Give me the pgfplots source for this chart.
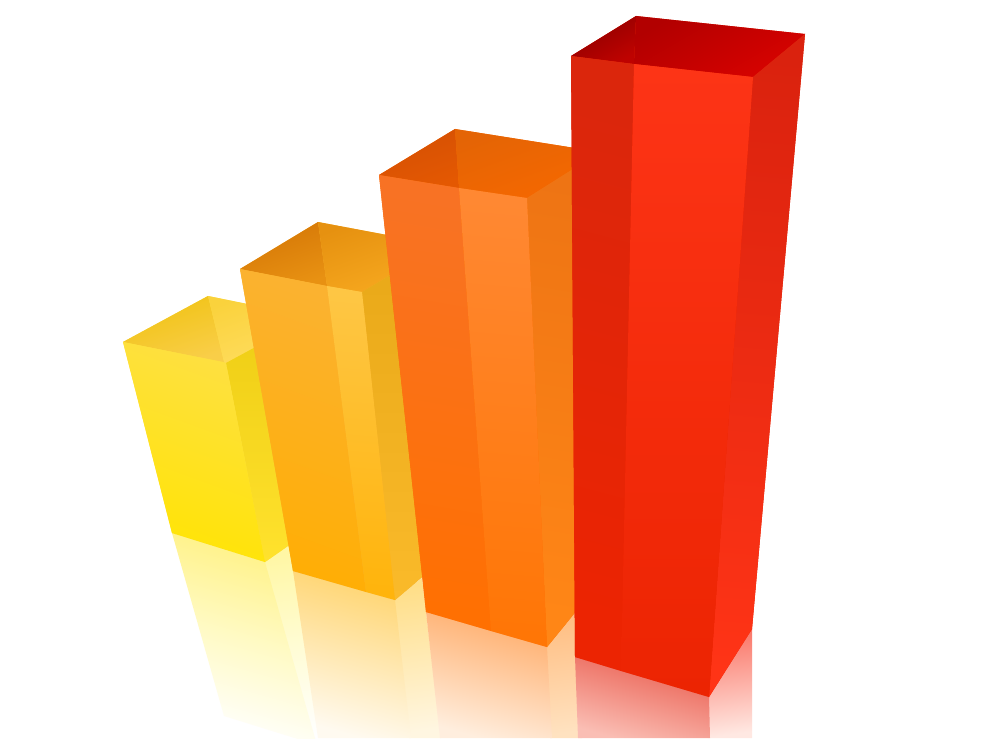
\documentclass[border=0pt]{standalone}
\usepackage{pgfplots}
\pgfplotsset{compat=1.18}

% colours
\definecolor{yFrontT}{RGB}{254,224,66}
\definecolor{yFrontB}{RGB}{255,228,5}
\definecolor{yRightT}{RGB}{238,205,20}
\definecolor{yRightB}{RGB}{255,226,45}
\definecolor{yTopLT}{RGB}{240,194,18}
\definecolor{yTopLB}{RGB}{249,206,72}
\definecolor{yTopRT}{RGB}{250,210,60}
\definecolor{yTopRB}{RGB}{255,221,96}
\definecolor{yRefT}{RGB}{255,241,130}
\definecolor{yRefM}{RGB}{255,250,196}
\definecolor{yRefRT}{RGB}{255,247,165}
\definecolor{yRefRM}{RGB}{255,252,212}

\definecolor{aFrontT}{RGB}{251,178,48}
\definecolor{aFrontB}{RGB}{255,174,5}
\definecolor{aStripT}{RGB}{254,198,68}
\definecolor{aStripB}{RGB}{255,180,12}
\definecolor{aRightT}{RGB}{232,168,24}
\definecolor{aRightB}{RGB}{250,186,42}
\definecolor{aTopLT}{RGB}{212,118,6}
\definecolor{aTopLB}{RGB}{232,145,18}
\definecolor{aTopRT}{RGB}{230,145,16}
\definecolor{aTopRB}{RGB}{248,170,32}
\definecolor{aRefT}{RGB}{255,212,110}
\definecolor{aRefB}{RGB}{255,250,240}
\definecolor{aRefRT}{RGB}{255,222,135}
\definecolor{aRefRB}{RGB}{255,246,225}

\definecolor{oFrontT}{RGB}{248,114,36}
\definecolor{oFrontB}{RGB}{255,112,2}
\definecolor{oStripT}{RGB}{255,136,50}
\definecolor{oStripB}{RGB}{255,118,6}
\definecolor{oRightT}{RGB}{238,116,20}
\definecolor{oRightB}{RGB}{255,134,22}
\definecolor{oTopLT}{RGB}{212,80,4}
\definecolor{oTopLB}{RGB}{228,88,2}
\definecolor{oTopRT}{RGB}{228,100,5}
\definecolor{oTopRB}{RGB}{246,104,0}
\definecolor{oRefT}{RGB}{255,172,105}
\definecolor{oRefB}{RGB}{255,238,222}
\definecolor{oRefRT}{RGB}{255,190,130}
\definecolor{oRefRB}{RGB}{255,226,192}

\definecolor{rFrontT}{RGB}{219,38,12}
\definecolor{rFrontB}{RGB}{236,36,2}
\definecolor{rStripT}{RGB}{253,52,22}
\definecolor{rStripB}{RGB}{236,36,2}
\definecolor{rRightT}{RGB}{218,34,14}
\definecolor{rRightB}{RGB}{255,52,22}
\definecolor{rTopLT}{RGB}{140,0,0}
\definecolor{rTopLB}{RGB}{190,2,0}
\definecolor{rTopRT}{RGB}{178,0,0}
\definecolor{rTopRB}{RGB}{216,2,0}
\definecolor{rRefT}{RGB}{234,92,78}
\definecolor{rRefB}{RGB}{250,190,180}
\definecolor{rRefRT}{RGB}{250,118,104}
\definecolor{rRefRB}{RGB}{255,232,226}

\pgfplotsset{
  face/.style n args={3}{draw=none,forget plot,top color=#1,bottom color=#2,shading angle=#3},
  under/.style={draw=none,forget plot,fill=#1},
}

\begin{document}
\begin{tikzpicture}
\begin{axis}[
  width=1000pt, height=738pt, scale only axis,
  xmin=0, xmax=1000, ymin=0, ymax=738, y dir=reverse,
  hide axis, clip=true,
]
% white page
\addplot[draw=none,fill=white,forget plot] coordinates {(0,0) (1000,0) (1000,738) (0,738)} -- cycle;

% reflections, side face first so the front overlaps the seam
\addplot[face={yRefRT}{white}{8},middle color=yRefRM] coordinates {(263,562) (290,545) (335,725) (315,745)} -- cycle;
\addplot[face={yRefT}{white}{-16},middle color=yRefM] coordinates {(172,533) (265,562) (317,745) (224,716)} -- cycle;
\addplot[face={aRefRT}{aRefRB}{8}] coordinates {(393,600) (422,578) (441,738) (409,738)} -- cycle;
\addplot[face={aRefT}{aRefB}{-16}] coordinates {(293,571) (395,600) (411,738) (318,738)} -- cycle;
\addplot[face={oRefRT}{oRefRB}{8}] coordinates {(545,647) (576,612) (582,738) (550,738)} -- cycle;
\addplot[face={oRefT}{oRefB}{-16}] coordinates {(426,612) (547,647) (552,738) (440,738)} -- cycle;
\addplot[face={rRefRT}{rRefRB}{8}] coordinates {(707,697) (752,629) (752,738) (708,738)} -- cycle;
\addplot[face={rRefT}{rRefB}{-16}] coordinates {(575,657) (709,697) (710,738) (578,738)} -- cycle;

% yellow bar
\addplot[under=yFrontT] coordinates {(123,342) (208,296) (311,317) (311,530) (265,562) (172,533)} -- cycle;
\addplot[face={yTopLT}{yTopLB}{20}] coordinates {(123,342) (208,296) (224,362)} -- cycle;
\addplot[face={yTopRT}{yTopRB}{20}] coordinates {(208,296) (311,317) (226,363) (224,362)} -- cycle;
\addplot[face={yRightT}{yRightB}{0}] coordinates {(226,363) (311,317) (311,530) (265,562)} -- cycle;
\addplot[face={yFrontT}{yFrontB}{-20}] coordinates {(123,342) (226,363) (265,562) (172,533)} -- cycle;

% amber bar
\addplot[under=aFrontT] coordinates {(240,269) (318,222) (440,245) (440,562) (395,600) (293,571)} -- cycle;
\addplot[face={aTopLT}{aTopLB}{20}] coordinates {(240,269) (318,222) (327,286)} -- cycle;
\addplot[face={aTopRT}{aTopRB}{20}] coordinates {(318,222) (440,245) (362,292) (327,286)} -- cycle;
\addplot[face={aRightT}{aRightB}{0}] coordinates {(362,292) (440,245) (440,562) (395,600)} -- cycle;
\addplot[face={aFrontT}{aFrontB}{-20}] coordinates {(240,269) (327,286) (366,592) (293,571)} -- cycle;
\addplot[face={aStripT}{aStripB}{-5}] coordinates {(327,286) (362,292) (395,600) (366,592)} -- cycle;

% orange bar
\addplot[under=oFrontB] coordinates {(379,175) (455,129) (600,152) (600,582) (547,647) (426,612)} -- cycle;
\addplot[face={oTopLT}{oTopLB}{20}] coordinates {(379,175) (455,129) (459,188)} -- cycle;
\addplot[face={oTopRT}{oTopRB}{20}] coordinates {(455,129) (600,152) (527,198) (459,188)} -- cycle;
\addplot[face={oRightT}{oRightB}{-10}] coordinates {(527,198) (600,152) (600,582) (547,647)} -- cycle;
\addplot[face={oFrontT}{oFrontB}{-10}] coordinates {(379,175) (459,188) (491,631) (426,612)} -- cycle;
\addplot[face={oStripT}{oStripB}{-5}] coordinates {(459,188) (527,198) (547,647) (491,631)} -- cycle;

% red bar
\addplot[under=rFrontB] coordinates {(571,56) (636,16) (805,34) (752,629) (709,697) (575,657)} -- cycle;
\addplot[face={rTopLT}{rTopLB}{30}] coordinates {(571,56) (636,16) (634,64)} -- cycle;
\addplot[face={rTopRT}{rTopRB}{30}] coordinates {(636,16) (805,34) (753,77) (634,64)} -- cycle;
\addplot[face={rRightT}{rRightB}{-5}] coordinates {(753,77) (805,34) (752,629) (709,697)} -- cycle;
\addplot[face={rFrontT}{rFrontB}{-15}] coordinates {(571,56) (634,64) (621,671) (575,657)} -- cycle;
\addplot[face={rStripT}{rStripB}{0}] coordinates {(634,64) (753,77) (709,697) (621,671)} -- cycle;
\end{axis}
\end{tikzpicture}
\end{document}
